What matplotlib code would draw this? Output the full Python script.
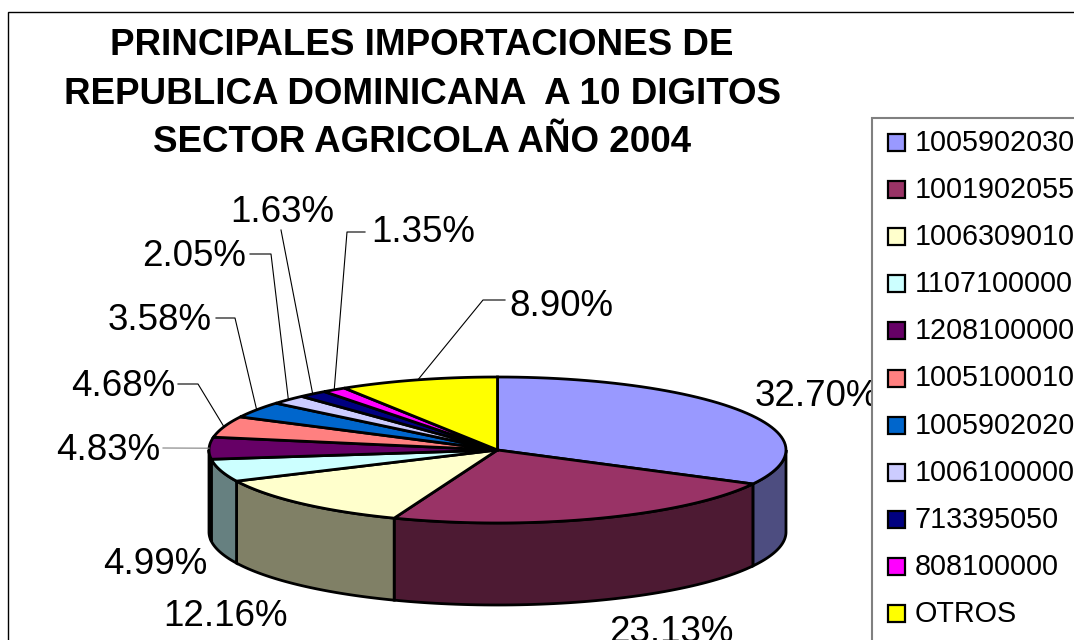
import matplotlib
matplotlib.use("Agg")
import matplotlib.pyplot as plt
import numpy as np
from matplotlib.patches import Polygon, Rectangle

plt.rcParams['font.family'] = ['Liberation Sans', 'DejaVu Sans']

codes = ["1005902030", "1001902055", "1006309010", "1107100000", "1208100000", "1005100010",
         "1005902020", "1006100000", "713395050", "808100000", "OTROS"]
shares = [32.70, 23.13, 12.16, 4.99, 4.83, 4.68, 3.58, 2.05, 1.63, 1.35, 8.90]
colors = ["#9999ff", "#993366", "#ffffcc", "#ccffff", "#660066", "#ff8080",
          "#0066cc", "#ccccff", "#000080", "#ff00ff", "#ffff00"]
title = "PRINCIPALES IMPORTACIONES DE\nREPUBLICA DOMINICANA  A 10 DIGITOS\nSECTOR AGRICOLA AÑO 2004"

# pie geometry, in pixels
cx, cy, rx, ry, depth = 497.5, 450, 288.5, 73, 82

# label centres, in the order of shares
label_pos = [(817, 396), (671, 633), (226, 616), (155, 564), (108, 450), (123, 386),
             (160, 321), (194, 256), (282, 212), (423, 232), (561, 306)]
# leader lines: start and elbow, the end is found on the pie rim
leaders = {4: [(163, 448)], 5: [(178, 384), (198, 384)], 6: [(216, 318), (235, 318)],
           7: [(250, 254), (271, 254)], 8: [(281, 230)], 9: [(365, 232), (347, 232)],
           10: [(505, 300), (483, 300)]}


def rim(t, drop=0):
    t = np.radians(t)
    return np.column_stack([cx + rx * np.sin(t), cy - ry * np.cos(t) + drop])


def darker(c):
    return tuple(v * 0.5 for v in matplotlib.colors.to_rgb(c))


fig = plt.figure(figsize=(10.74, 6.4), dpi=100)
ax = fig.add_axes([0, 0, 1, 1])
ax.set_xlim(0, 1074)
ax.set_ylim(640, 0)
ax.axis('off')

# chart frame
ax.add_patch(Rectangle((8, 12), 1200, 800, fc='white', ec='black', lw=1, zorder=0))

ax.text(422, 94, title, ha='center', va='center', fontsize=26.5, fontweight='bold',
        linespacing=1.5, zorder=5)

edges = np.concatenate([[0], np.cumsum(shares)]) / sum(shares) * 360

# side walls, only the front half shows
for i in range(len(shares)):
    a, b = max(edges[i], 90), min(edges[i + 1], 270)
    if a >= b:
        continue
    t = np.linspace(a, b, 60)
    pts = np.vstack([rim(t), rim(t[::-1], depth)])
    ax.add_patch(Polygon(pts, fc=darker(colors[i]), ec='black', lw=2, zorder=2))

# top face
for i in range(len(shares)):
    t = np.linspace(edges[i], edges[i + 1], 60)
    pts = np.vstack([[(cx, cy)], rim(t)])
    ax.add_patch(Polygon(pts, fc=colors[i], ec='black', lw=2, zorder=3))

# leader lines
for i, pts in leaders.items():
    end = rim((edges[i] + edges[i + 1]) / 2)[0]
    xy = np.array(pts + [tuple(end)])
    c = '#808080' if i == 4 else 'black'
    ax.plot(xy[:, 0], xy[:, 1], color=c, lw=0.8, zorder=4)

for s, (x, y) in zip(shares, label_pos):
    ax.text(x, y, f"{s:.2f}%", ha='center', va='center', fontsize=26.5, zorder=5)

# legend
ax.add_patch(Rectangle((872, 118), 400, 700, fc='white', ec='#808080', lw=1.5, zorder=6))
for i, code in enumerate(codes):
    y = 142 + 47.1 * i
    ax.add_patch(Rectangle((888, y - 8), 17, 17, fc=colors[i], ec='black', lw=1.6, zorder=7))
    ax.text(915, y + 1, code, ha='left', va='center', fontsize=20.7, zorder=7)

fig.savefig("out.png", dpi=100)
